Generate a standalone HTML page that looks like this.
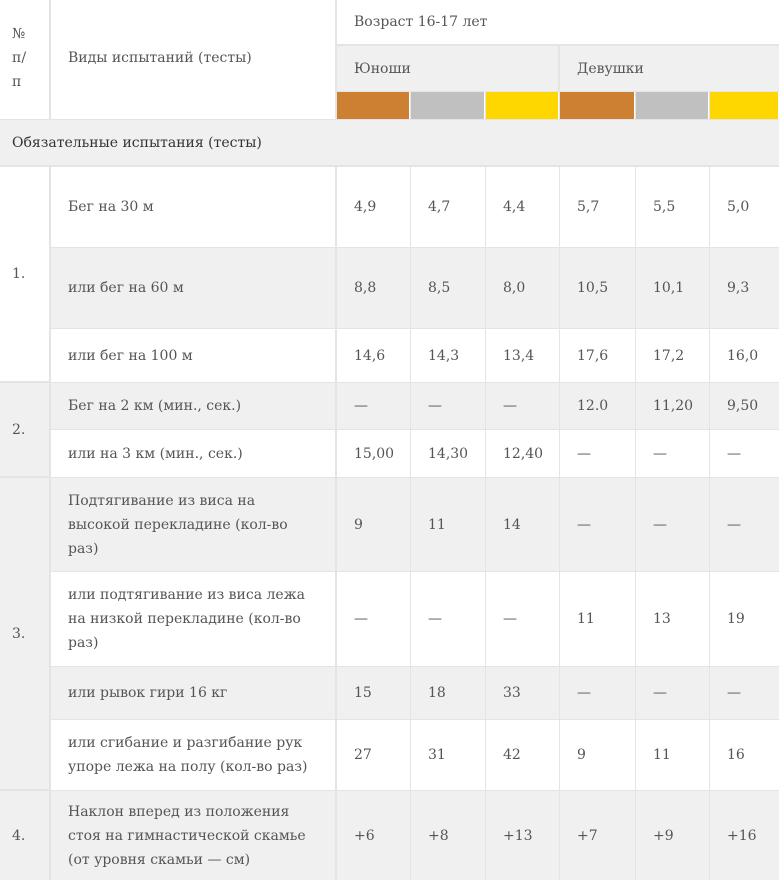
<!DOCTYPE html>
<html><head><meta charset="utf-8">
<style>
body{margin:0;width:784px;height:880px;background:#fff;overflow:hidden;font-family:"DejaVu Serif","Liberation Serif",serif;}
#tbl{position:absolute;left:0;top:0;width:779px;height:880px;background:#e4e4e4;}
.c{position:absolute;display:flex;align-items:center;box-sizing:border-box;color:#555;font-size:14px;line-height:24px;white-space:nowrap;}
.w{background:#fff}.g{background:#f0f0f0}
</style></head><body>
<div id="tbl"></div>
<script>
const colX=[0,50,336,410,485,559,635,709,779];
const rowY=[166,247,328,382,429,477,571,666,719,790,880];
const tests=["Бег на 30 м","или бег на 60 м","или бег на 100 м","Бег на 2 км (мин., сек.)","или на 3 км (мин., сек.)","Подтягивание из виса на<br>высокой перекладине (кол-во<br>раз)","или подтягивание из виса лежа<br>на низкой перекладине (кол-во<br>раз)","или рывок гири 16 кг","или сгибание и разгибание рук<br>упоре лежа на полу (кол-во раз)","Наклон вперед из положения<br>стоя на гимнастической скамье<br>(от уровня скамьи — см)"];
const values=[["4,9","4,7","4,4","5,7","5,5","5,0"],["8,8","8,5","8,0","10,5","10,1","9,3"],["14,6","14,3","13,4","17,6","17,2","16,0"],["—","—","—","12.0","11,20","9,50"],["15,00","14,30","12,40","—","—","—"],["9","11","14","—","—","—"],["—","—","—","11","13","19"],["15","18","33","—","—","—"],["27","31","42","9","11","16"],["+6","+8","+13","+7","+9","+16"]];
const groups=[["1.",0,3,"w"],["2.",3,5,"g"],["3.",5,9,"g"],["4.",9,10,"g"]];
const medal=["#cd7f32","#c0c0c0","#ffd700","#cd7f32","#c0c0c0","#ffd700"];
const T=document.getElementById('tbl');
function cell(x1,y1,x2,y2,cls,html,pad){
  const d=document.createElement('div');
  d.className='c '+cls;
  d.style.left=(x1===0?0:x1+1)+'px';d.style.top=(y1===0?0:y1+1)+'px';
  d.style.width=(x2-(x1===0?0:x1+1))+'px';d.style.height=(y2-(y1===0?0:y1+1))+'px';
  d.style.paddingLeft=pad+'px';
  d.innerHTML=html;T.appendChild(d);return d;
}
let e;
e=cell(0,0,49,119,'w','№<br>п/<br>п',12);


e.style.alignItems='flex-start';e.style.paddingTop='22px';
e=cell(50,0,335,119,'w','Виды испытаний (тесты)',17);


e.style.alignItems='flex-start';e.style.paddingTop='46px';
e=cell(336,0,779,44,'w','Возраст 16-17 лет',17);


e=cell(336,45,558,91,'g','Юноши',17);


e=cell(559,45,779,91,'g','Девушки',17);


for(let i=0;i<6;i++){
  e=cell(colX[i+2],91,colX[i+3]-(i<5?0:0),119,'w','',0);
  e.style.background=medal[i];
  e.style.borderRight='1px solid #fff';
  
  
}
e=cell(0,119,779,165,'g','Обязательные испытания (тесты)',12);
e.style.color='#333';


for(const gr of groups){
  e=cell(0,rowY[gr[1]],49,rowY[gr[2]]-(gr[2]<10?1:0),gr[3],gr[0],12);
  
  
}
const bgs=["w","g","w","g","w","g","w","g","w","g"];
for(let r=0;r<tests.length;r++){
  const y1=rowY[r],y2=rowY[r+1]-(r<9?0:0);
  e=cell(50,y1,335,y2,bgs[r],tests[r],17);
  
  
  for(let c=0;c<6;c++){
    e=cell(colX[c+2],y1,colX[c+3]-(c<5?0:0),y2,bgs[r],values[r][c],17);
    
    
  }
}
</script>
</body></html>
